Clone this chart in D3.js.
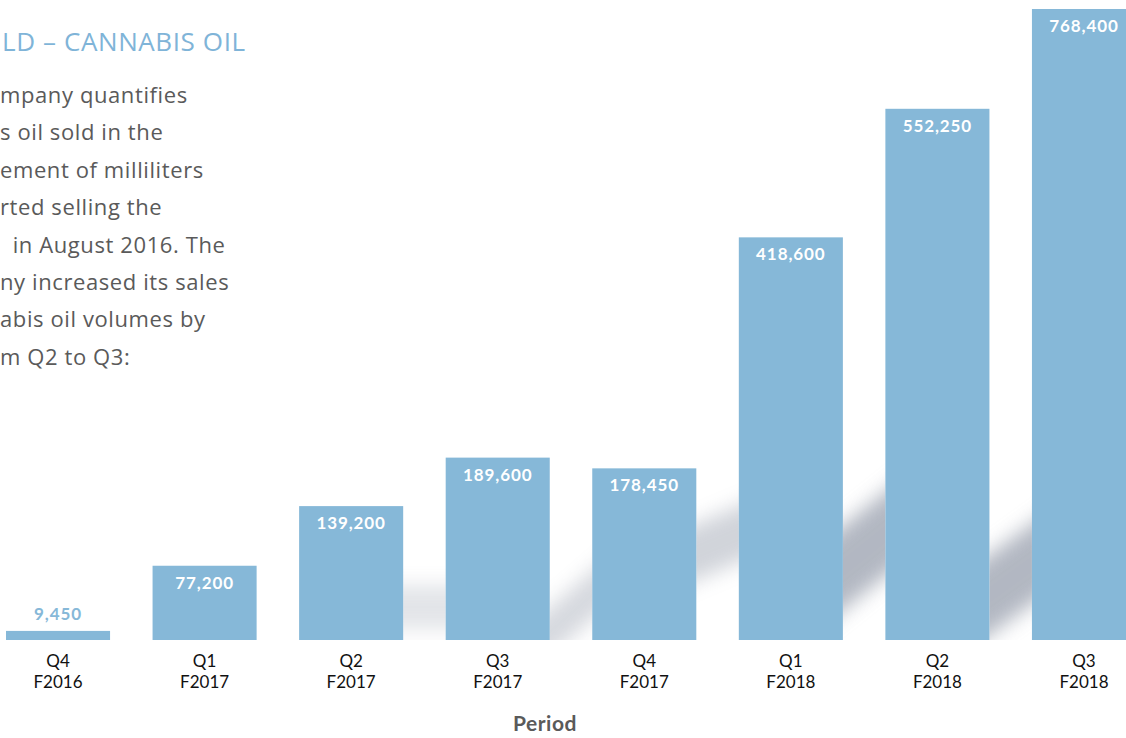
<!DOCTYPE html>
<html>
<head>
<meta charset="utf-8">
<script src="https://cdn.jsdelivr.net/npm/d3@7"></script>
<style>
  html, body { margin: 0; padding: 0; background: #ffffff; overflow: hidden; }
  svg { display: block; }
</style>
</head>
<body>
<svg id="chart" width="1126" height="738"></svg>
<script>
// Cannabis oil sold per fiscal quarter (ml)
const quarters = ["Q4", "Q1", "Q2", "Q3", "Q4", "Q1", "Q2", "Q3"];
const fiscalYears = ["F2016", "F2017", "F2017", "F2017", "F2017", "F2018", "F2018", "F2018"];
const volumes = [9450, 77200, 139200, 189600, 178450, 418600, 552250, 768400];
const periods = quarters.map((q, i) => q + " " + fiscalYears[i]);

// text column at the left edge of the page (only its right part falls on the page)
const titleText = "LD \u2013 CANNABIS OIL";
const paragraphLines = [
  "mpany quantifies",
  "s oil sold in the",
  "ement of milliliters",
  "rted selling the",
  "\u00a0\u00a0in August 2016. The",
  "ny increased its sales",
  "abis oil volumes by",
  "m Q2 to Q3:"
];
const axisTitle = "Period";

const BAR = "#86b8d8";
const baseY = 640;

const svg = d3.select("#chart");

// scales: the value axis is truncated at the top, so the tallest bar is clamped
const x = d3.scaleBand()
  .domain(periods)
  .range([6, 1136])
  .paddingInner(0.29)
  .paddingOuter(0);

const y = d3.scaleLinear()
  .domain([0, 656000])
  .range([baseY, 9])
  .clamp(true);

// ---- soft ribbon shadow showing in the gaps between bars ----
const defs = svg.append("defs");
defs.append("filter")
  .attr("id", "soft")
  .attr("x", "-50%").attr("y", "-50%").attr("width", "200%").attr("height", "200%")
  .append("feGaussianBlur").attr("stdDeviation", 10);

// per gap: centre height above baseline at left / right edge, half thickness, opacity
const shadowGaps = [
  { gap: 2, left: 33, right: 33, half: 22, op: 0.22 },
  { gap: 3, left: 8, right: 45, half: 24, op: 0.32 },
  { gap: 4, left: 88, right: 106, half: 28, op: 0.36 },
  { gap: 5, left: 72, right: 106, half: 42, op: 0.6 },
  { gap: 6, left: 45, right: 76, half: 40, op: 0.6 }
];

const shadowLayer = svg.append("g");
shadowGaps.forEach(s => {
  const gx0 = x(periods[s.gap]) + x.bandwidth();
  const gx1 = x(periods[s.gap + 1]);
  const slope = (s.right - s.left) / (gx1 - gx0);
  const cid = "gapclip" + s.gap;
  defs.append("clipPath").attr("id", cid)
    .append("rect")
    .attr("x", gx0).attr("y", 0)
    .attr("width", gx1 - gx0).attr("height", baseY);
  const cy = px => baseY - (s.left + slope * (px - gx0));
  const xa = gx0 - 25, xb = gx1 + 25;
  const pts = [
    [xa, cy(xa) - s.half], [xb, cy(xb) - s.half],
    [xb, cy(xb) + s.half], [xa, cy(xa) + s.half]
  ];
  shadowLayer.append("g")
    .attr("clip-path", `url(#${cid})`)
    .append("polygon")
    .attr("points", pts.map(p => p.join(",")).join(" "))
    .attr("fill", "#7f8799")
    .attr("opacity", s.op)
    .attr("filter", "url(#soft)");
});

// ---- bars ----
svg.append("g")
  .selectAll("rect")
  .data(volumes)
  .join("rect")
  .attr("x", (d, i) => x(periods[i]))
  .attr("y", d => y(d))
  .attr("width", x.bandwidth())
  .attr("height", d => baseY - y(d))
  .attr("fill", BAR);

// ---- value labels ----
const fmt = d3.format(",");
const inside = d => baseY - y(d) > 30;
svg.append("g")
  .selectAll("text")
  .data(volumes)
  .join("text")
  .attr("x", (d, i) => x(periods[i]) + x.bandwidth() / 2)
  .attr("y", d => inside(d) ? y(d) + 23 : y(d) - 11)
  .attr("text-anchor", "middle")
  .attr("font-family", "Lato, 'Open Sans', sans-serif")
  .attr("font-weight", 700)
  .attr("font-size", 17)
  .attr("letter-spacing", "0.9px")
  .attr("fill", d => inside(d) ? "#ffffff" : BAR)
  .text(d => fmt(d));

// ---- period axis ----
const axis = svg.append("g")
  .attr("transform", `translate(0,${baseY})`)
  .call(d3.axisBottom(x).tickSize(0).tickPadding(0));
axis.select(".domain").remove();
axis.selectAll(".tick text")
  .attr("font-family", "Lato, 'Noto Sans', sans-serif")
  .attr("font-size", 17)
  .attr("fill", "#111111")
  .attr("y", 0)
  .attr("dy", null)
  .text(null)
  .each(function (d, i) {
    const t = d3.select(this);
    t.append("tspan").attr("x", 0).attr("y", 27).text(quarters[i]);
    t.append("tspan").attr("x", 0).attr("y", 48).text(fiscalYears[i]);
  });

svg.append("text")
  .attr("x", 545)
  .attr("y", 731)
  .attr("text-anchor", "middle")
  .attr("font-family", "Lato, sans-serif")
  .attr("font-weight", 700)
  .attr("font-size", 21)
  .attr("letter-spacing", "0.5px")
  .attr("fill", "#5a5a5a")
  .text(axisTitle);

// ---- title and description ----
svg.append("text")
  .attr("x", 2)
  .attr("y", 51)
  .attr("font-family", "'Open Sans', sans-serif")
  .attr("font-weight", 400)
  .attr("font-size", 26)
  .attr("letter-spacing", "0.6px")
  .attr("fill", "#7fb4d8")
  .text(titleText);

svg.append("g")
  .attr("font-family", "'Open Sans', sans-serif")
  .attr("font-size", 22)
  .attr("letter-spacing", "0.6px")
  .attr("fill", "#5a5a5a")
  .selectAll("text")
  .data(paragraphLines)
  .join("text")
  .attr("x", 0)
  .attr("y", (d, i) => 103 + i * 37.4)
  .text(d => d);
</script>
</body>
</html>
